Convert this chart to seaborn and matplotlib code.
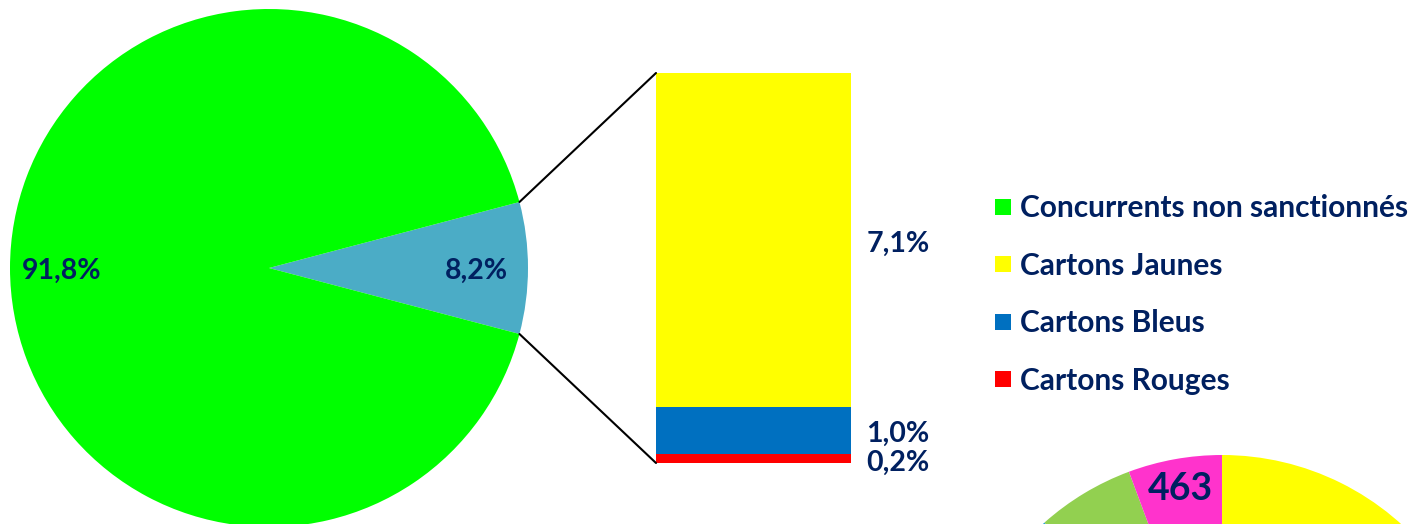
import matplotlib
matplotlib.use("Agg")
import matplotlib.pyplot as plt
from matplotlib.lines import Line2D
from matplotlib.patches import ConnectionPatch
import numpy as np
import seaborn as sns

# main pie: non sanctioned vs sanctioned
pie_labels = ["Cartons", "Concurrents non sanctionnés"]
pie_values = [8.2, 91.8]
pie_colors = ["#4BACC6", "#00FF00"]

# breakdown of the sanctioned share
bar_labels = ["Cartons Jaunes", "Cartons Bleus", "Cartons Rouges"]
bar_values = [7.1, 1.0, 0.2]
bar_colors = ["#FFFF00", "#0070C0", "#FF0000"]

legend_labels = ["Concurrents non sanctionnés", "Cartons Jaunes", "Cartons Bleus", "Cartons Rouges"]
legend_colors = ["#00FF00", "#FFFF00", "#0070C0", "#FF0000"]

# second pie, cut off at the bottom of the picture (clockwise from top)
pie2_values = [2400, 4824, 483, 463]
pie2_colors = ["#FFFF00", "#1E9FE0", "#92D050", "#FF33CC"]

navy = "#002060"

sns.set_theme(style="white")
plt.rcParams["font.family"] = ["Lato", "DejaVu Sans"]
plt.rcParams["font.weight"] = "bold"

W, H = 1411, 524
fig = plt.figure(figsize=(W / 100, H / 100), dpi=100)
fig.patch.set_facecolor("white")

ax = fig.add_axes([0, 0, 1, 1])

fmt = lambda p: ("%.1f%%" % p).replace(".", ",")
wedges, texts, autotexts = ax.pie(pie_values, colors=pie_colors, center=(269, 256), radius=259,
                                  startangle=-pie_values[0] * 3.6 / 2, autopct=fmt, pctdistance=0.8,
                                  textprops=dict(color=navy, fontsize=20.5, fontweight="bold"),
                                  wedgeprops=dict(linewidth=0))
for t in autotexts:
    x, y = t.get_position()
    t.set_position((x, y - 3))

total2 = sum(pie2_values)
fmt2 = lambda p: "463" if round(p * total2 / 100) == 463 else ""
ax.pie(pie2_values, colors=pie2_colors, center=(1222, -198), radius=267, startangle=90,
       counterclock=False, autopct=fmt2, pctdistance=0.885,
       textprops=dict(color=navy, fontsize=27, fontweight="bold"),
       wedgeprops=dict(linewidth=0))

ax.set_xlim(0, W)
ax.set_ylim(0, H)
ax.set_aspect("auto")
ax.axis("off")

# stacked bar
bax = fig.add_axes([656 / W, 61 / H, 195 / W, 390 / H])
cum = np.cumsum(bar_values[::-1])[::-1]
for top, c in zip(cum, bar_colors):
    sns.barplot(x=["Cartons"], y=[top], color=c, width=1, saturation=1, linewidth=0, ax=bax)
bax.set_xlim(-0.5, 0.5)
bax.set_ylim(0, cum[0])
bax.axis("off")

for v, top in zip(bar_values, cum):
    bax.annotate(fmt(v), xy=(0.5, top - v / 2), xytext=(11, -3), textcoords="offset points",
                 ha="left", va="center", color=navy, fontsize=20.5, fontweight="bold",
                 annotation_clip=False)

# connector lines from the blue wedge to the bar
w = wedges[0]
for ang, ybar in [(w.theta2, cum[0]), (w.theta1, 0)]:
    px = w.center[0] + w.r * np.cos(np.radians(ang))
    py = w.center[1] + w.r * np.sin(np.radians(ang))
    con = ConnectionPatch(xyA=(px, py), coordsA=ax.transData, xyB=(-0.5, ybar), coordsB=bax.transData,
                          color="black", linewidth=1.5)
    fig.add_artist(con)

handles = [Line2D([0], [0], marker="s", linestyle="", markersize=11.5, markerfacecolor=c,
                  markeredgewidth=0) for c in legend_colors]
fig.legend(handles, legend_labels, loc="upper left", bbox_to_anchor=(995 / W, (H - 194) / H),
           frameon=False, borderpad=0, borderaxespad=0, handlelength=0.55, handletextpad=0.28,
           labelspacing=0.99, labelcolor=navy, prop=dict(size=21.5, weight="bold"))

fig.savefig("out.png", dpi=100)
